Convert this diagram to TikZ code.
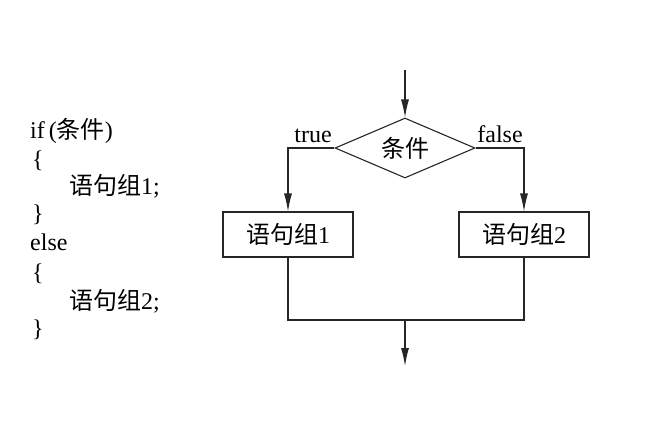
\documentclass[tikz,border=0pt]{standalone}
\usepackage{fontspec}
\setmainfont{Liberation Serif}
\newfontfamily\cjk{Noto Sans CJK SC}
\usetikzlibrary{arrows.meta,shapes.geometric}
\tikzset{
  line/.style={line width=1.1pt, draw=black!85},
  arr/.style={line, -{Latex[length=18pt,width=8pt]}},
  box/.style={line, rectangle, minimum width=130pt, minimum height=45pt, inner sep=0pt, font=\fontsize{24}{24}\selectfont},
  code/.style={anchor=base west, inner sep=0pt, font=\fontsize{24}{28}\selectfont},
  lbl/.style={anchor=base, inner sep=0pt, font=\fontsize{24}{24}\selectfont},
}
\begin{document}
\begin{tikzpicture}[x=1pt,y=-1pt]
\useasboundingbox (0,0) rectangle (660,429);
% code
\node[code] (c1) at (30,138) {if\,({\cjk 条件})};
\node[code] (c2) at (32,167) {\{};
\node[code] (c3) at (69,194) {{\cjk 语句组}1;};
\node[code] (c4) at (32,221) {\}};
\node[code] (c5) at (30,250) {else};
\node[code] (c6) at (32,280) {\{};
\node[code] (c7) at (69,309) {{\cjk 语句组}2;};
\node[code] (c8) at (32,336) {\}};
% flowchart
\coordinate (top) at (405,70);
\node[line, diamond, minimum width=140pt, minimum height=60pt, inner sep=0pt, aspect=2.33] (d) at (405,148) {};
\node[font=\fontsize{24}{24}\selectfont\cjk] at (405,148) (dt) {条件};
\node[box] (b1) at (288,234.5) {{\cjk 语句组}1};
\node[box] (b2) at (524,234.5) {{\cjk 语句组}2};
\coordinate (m) at (405,320);
\coordinate (end) at (405,366);
\draw[arr] (top) -- (d.north);
\draw[arr] (d.west) -| (b1.north);
\draw[arr] (d.east) -| (b2.north);
\draw[line] (b1.south) |- (m) -| (b2.south);
\draw[arr] (m) -- (end);
\node[lbl] (t) at (313,142) {true};
\node[lbl] (f) at (500,142) {false};
\end{tikzpicture}
\end{document}
